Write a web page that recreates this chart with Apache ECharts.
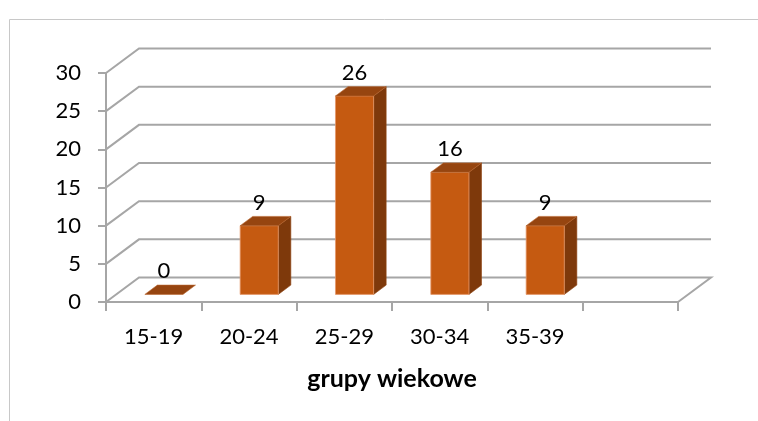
<!DOCTYPE html>
<html>
<head>
<meta charset="utf-8">
<script src="https://cdn.jsdelivr.net/npm/echarts@6/dist/echarts.min.js"></script>
<style>
html,body{margin:0;padding:0;background:#fff;}
#chart{width:758px;height:421px;}
</style>
</head>
<body>
<div id="chart"></div>
<script>
// ---- data ----
var categories = ['15-19', '20-24', '25-29', '30-34', '35-39', ''];
var values = [0, 9, 26, 16, 9];
var yTicks = [0, 5, 10, 15, 20, 25, 30];
var xAxisTitle = 'grupy wiekowe';

// ---- 3D look ----
var DX = 33, DY = -24.5;        // depth vector of the chart box
var T_FRONT = 0.31, T_BACK = 0.69; // bar depth (fraction of box depth)
var BAR_W = 0.4;                 // bar width (fraction of band)
var GRID_COLOR = '#A6A6A6';
var FONT = 'Lato';

var chart = echarts.init(document.getElementById('chart'), null, {renderer: 'canvas'});

function wallItem(params, api) {
  var cs = params.coordSys;
  var v = api.value(1);
  var y = api.coord([0, v])[1];
  var x0 = cs.x, x1 = cs.x + cs.width;
  var pts = [[x0, y], [x0 + DX, y + DY], [x1 + DX, y + DY]];
  if (v === 0) pts.push([x1, y]);
  return {
    type: 'polyline',
    shape: {points: pts},
    style: {stroke: GRID_COLOR, lineWidth: 2, fill: null},
    silent: true
  };
}

function barItem(params, api) {
  var i = api.value(0), v = api.value(1);
  var c0 = api.coord([i, 0]);
  var c1 = api.coord([i, v]);
  var bw = api.size([1, 0])[0];
  var w = bw * BAR_W;
  var xl = c0[0] - w / 2, xr = c0[0] + w / 2;
  var fx = T_FRONT * DX, fy = T_FRONT * DY, bx = T_BACK * DX, by = T_BACK * DY;
  var ybF = c0[1] + fy, ytF = c1[1] + fy;
  var ytB = c1[1] + by, ybB = c0[1] + by;
  var children = [];
  if (v > 0) {
    children.push({
      type: 'polygon',
      shape: {points: [[xr + fx, ybF], [xr + fx, ytF], [xr + bx, ytB], [xr + bx, ybB]]},
      style: {fill: '#7E390B', stroke: '#8F4512', lineWidth: 0.6}
    });
    children.push({
      type: 'rect',
      shape: {x: xl + fx, y: ytF, width: w, height: ybF - ytF},
      style: {fill: '#C55A11', stroke: '#E4976A', lineWidth: 0.8}
    });
  }
  children.push({
    type: 'polygon',
    shape: {points: [[xl + fx, ytF], [xr + fx, ytF], [xr + bx, ytB], [xl + bx, ytB]]},
    style: {fill: '#964510', stroke: '#B8652E', lineWidth: 0.6}
  });
  children.push({
    type: 'text',
    style: {
      text: String(v), x: c0[0] + fx, y: ytF - 12,
      align: 'center', verticalAlign: 'bottom',
      font: '22px ' + FONT, fill: '#000'
    }
  });
  return {type: 'group', children: children};
}

var option = {
  backgroundColor: '#fff',
  animation: false,
  graphic: [{
    type: 'rect',
    shape: {x: 9.5, y: 19.5, width: 800, height: 500},
    style: {fill: null, stroke: '#C8C8C8', lineWidth: 1},
    silent: true, z: -10
  }],
  grid: {left: 106, top: 73, right: 80, bottom: 119, containLabel: false},
  xAxis: {
    type: 'category',
    data: categories,
    boundaryGap: true,
    axisLine: {show: true, lineStyle: {color: GRID_COLOR, width: 2}},
    axisTick: {show: true, length: 9, alignWithLabel: false, interval: 0, lineStyle: {color: GRID_COLOR, width: 2}},
    axisLabel: {color: '#000', fontSize: 22, fontFamily: FONT, margin: 24, interval: 0},
    splitLine: {show: false},
    name: xAxisTitle,
    nameLocation: 'middle',
    nameGap: 64,
    nameTextStyle: {color: '#000', fontSize: 25, fontWeight: 'bold', fontFamily: FONT}
  },
  yAxis: {
    type: 'value',
    min: 0, max: 30, interval: 5,
    axisLine: {show: true, lineStyle: {color: GRID_COLOR, width: 2}},
    axisTick: {show: true, length: 8, lineStyle: {color: GRID_COLOR, width: 2}},
    axisLabel: {color: '#000', fontSize: 22, fontFamily: FONT, margin: 25},
    splitLine: {show: false}
  },
  series: [{
    type: 'custom',
    renderItem: wallItem,
    data: yTicks.map(function (v) { return [0, v]; }),
    encode: {x: 0, y: 1},
    silent: true,
    z: 1
  }, {
    type: 'custom',
    renderItem: barItem,
    data: values.map(function (v, i) { return [i, v]; }),
    encode: {x: 0, y: 1},
    z: 3
  }]
};
chart.setOption(option);
</script>
</body>
</html>
